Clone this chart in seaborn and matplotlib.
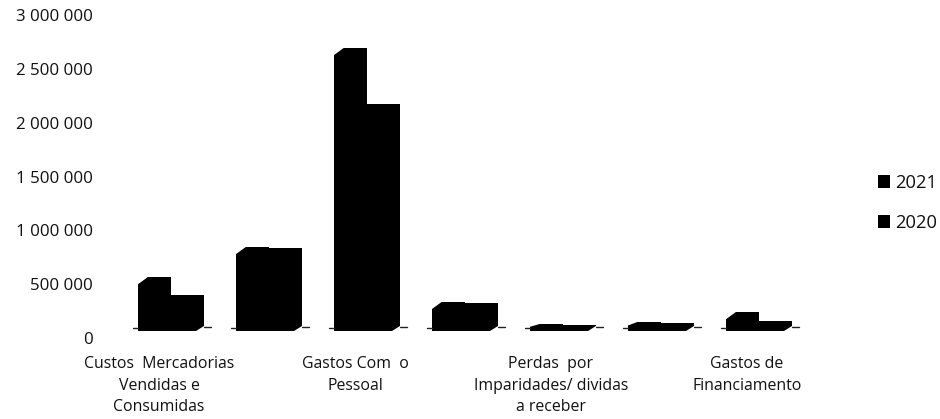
import matplotlib
matplotlib.use("Agg")
import matplotlib.pyplot as plt
import matplotlib.transforms as mtrans
import pandas as pd
import seaborn as sns

categorias = ["Custos Mercadorias\nVendidas e\nConsumidas", "cat2",
              "Gastos Com  o\nPessoal", "cat4",
              "Perdas  por\nImparidades/ dividas\na receber", "cat6",
              "Gastos de\nFinanciamento"]
rotulos_x = ["Custos  Mercadorias\nVendidas e\nConsumidas", "",
             "Gastos Com  o\nPessoal", "",
             "Perdas  por\nImparidades/ dividas\na receber", "",
             "Gastos de\nFinanciamento"]
v2021 = [500000, 780000, 2630000, 270000, 65000, 85000, 175000]
v2020 = [335000, 770000, 2110000, 260000, 60000, 70000, 90000]
ticks_y = [0, 500000, 1000000, 1500000, 2000000, 2500000, 3000000]
rotulos_y = ["0", "500 000", "1 000 000", "1 500 000", "2 000 000", "2 500 000", "3 000 000"]

sns.set_theme(style="white")
plt.rcParams["font.family"] = ["Open Sans", "DejaVu Sans"]

df = pd.DataFrame({
    "categoria": categorias * 2,
    "valor": v2021 + v2020,
    "ano": ["2021"] * 7 + ["2020"] * 7,
})

W, H = 940, 419
fig = plt.figure(figsize=(W / 100, H / 100), dpi=100, facecolor="white")
ax = fig.add_axes([122 / W, (H - 331) / H, (808 - 122) / W, 322.8 / H])

sns.barplot(data=df, x="categoria", y="valor", hue="ano", order=categorias,
            hue_order=["2021", "2020"], palette=["#000000", "#000000"],
            width=0.68, gap=0, dodge=True, saturation=1, linewidth=0, ax=ax)

ax.set_xlim(-0.5, 6.5)
ax.set_ylim(0, 3000000)
ax.set_xlabel("")
ax.set_ylabel("")
sns.despine(ax=ax, left=True, bottom=True)
ax.patch.set_alpha(0)

ax.set_yticks(ticks_y, rotulos_y, fontsize=12.2, color="#111111")
ax.set_xticks(range(7), rotulos_x, fontsize=11.4, color="#111111", linespacing=1.46)
ax.tick_params(axis="both", length=0)
ax.tick_params(axis="y", pad=21)
ax.tick_params(axis="x", pad=18)

# rotulos deslocados como no grafico 3D original
desl_y = mtrans.ScaledTranslation(0, -7 / 100, fig.dpi_scale_trans)
for t in ax.get_yticklabels():
    t.set_transform(t.get_transform() + desl_y)
desl_x = mtrans.ScaledTranslation(-12 / 100, 0, fig.dpi_scale_trans)
for t in ax.get_xticklabels():
    t.set_transform(t.get_transform() + desl_x)

# efeito 3D: cantos cortados e riscos do chao
px_x = 7 / (808 - 122)
px_y = 3000000 / 322.8
for p in ax.containers[0].patches:
    x0, h = p.get_x(), p.get_height()
    d = min(h * 0.45, 8 * px_y)
    ax.fill([x0 - px_x, x0 + 10 * px_x, x0 + 10 * px_x, x0 - px_x], [h - d, h, h + px_y, h + px_y],
            color="white", lw=0, zorder=5)
    ax.plot([x0 - 5 * px_x, x0], [3 * px_y] * 2, color="#222222", lw=1, zorder=1)
for p in ax.containers[1].patches:
    x1 = p.get_x() + p.get_width()
    ax.fill([x1 - 8 * px_x, x1, x1], [0, 0, 5 * px_y], color="white", lw=0, zorder=5)
    ax.plot([x1, x1 + 7 * px_x], [4.5 * px_y] * 2, color="#222222", lw=1, zorder=1)

leg = ax.legend(loc="upper left", bbox_to_anchor=(878 / W, (H - 174) / H),
                bbox_transform=fig.transFigure, frameon=False, fontsize=13.2,
                labelspacing=1.2, handlelength=0.66, handleheight=0.66,
                handletextpad=0.25, borderpad=0, borderaxespad=0)
for t in leg.get_texts():
    t.set_color("#111111")

fig.savefig("out.png", dpi=100, facecolor="white")
